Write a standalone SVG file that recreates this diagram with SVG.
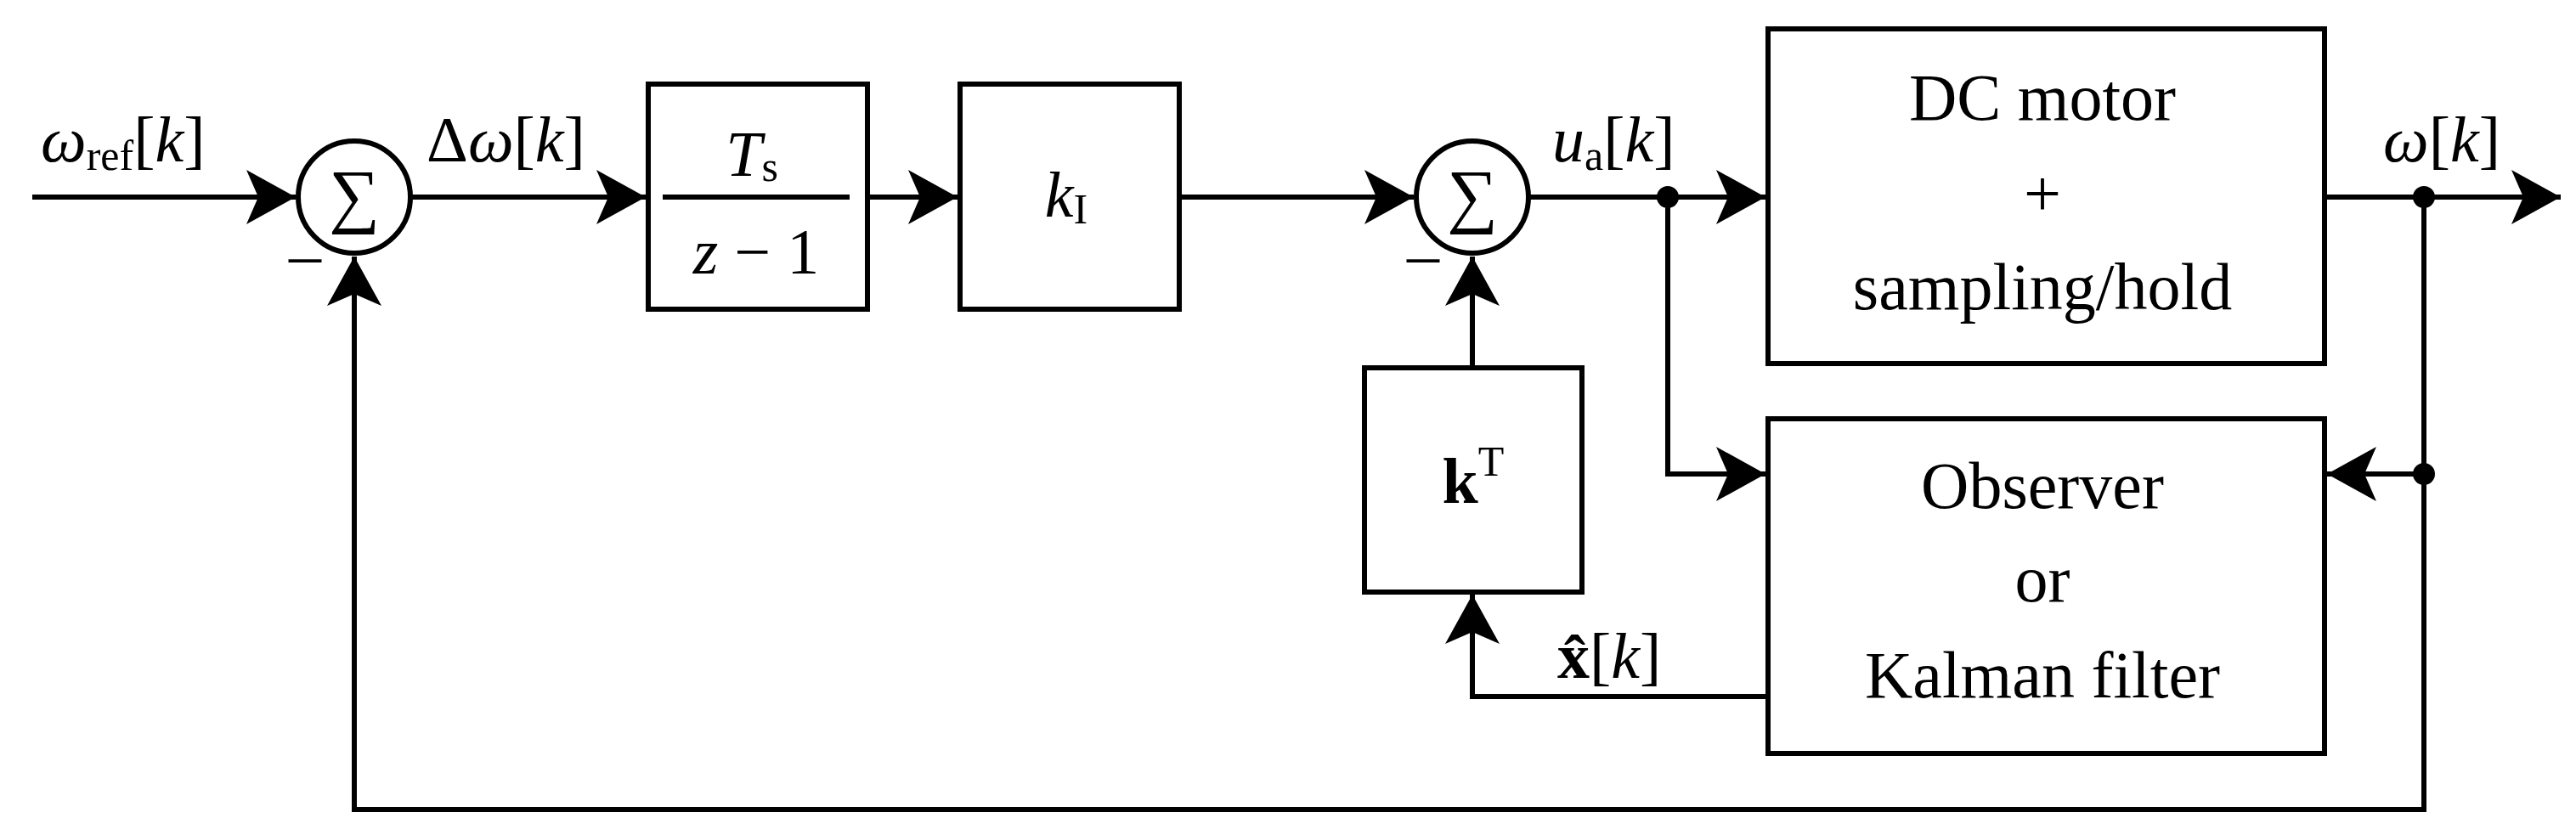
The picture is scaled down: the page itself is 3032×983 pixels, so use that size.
<svg xmlns="http://www.w3.org/2000/svg" width="3032" height="983" viewBox="0 0 3032 983" font-family="Liberation Serif, Times New Roman, DejaVu Serif, serif">
<style>
.ln{fill:none;stroke:#000;stroke-width:6}
.bx{fill:#fff;stroke:#000;stroke-width:6}
.t{font-size:78px;fill:#000}
.m{font-size:76px;fill:#000}
.i{font-style:italic}
.s{font-size:50px}
</style>
<defs>
<marker id="a" markerUnits="userSpaceOnUse" markerWidth="60" markerHeight="64" refX="58" refY="32" orient="auto">
<path d="M0,0 L58,32 L0,64 L14,32 Z" fill="#000"/>
</marker>
</defs>
<g id="connectors">
<path class="ln" d="M38,232 H348" marker-end="url(#a)"/>
<path class="ln" d="M484,232 H760" marker-end="url(#a)"/>
<path class="ln" d="M1021,232 H1127" marker-end="url(#a)"/>
<path class="ln" d="M1388,232 H1664" marker-end="url(#a)"/>
<path class="ln" d="M1800,232 H2078" marker-end="url(#a)"/>
<path class="ln" d="M1963,232 V558 H2078" marker-end="url(#a)"/>
<path class="ln" d="M2736,232 H3014" marker-end="url(#a)"/>
<path class="ln" d="M2853,232 V953 H417 V302" marker-end="url(#a)"/>
<path class="ln" d="M2853,558 H2739" marker-end="url(#a)"/>
<path class="ln" d="M2081,820 H1733 V700" marker-end="url(#a)"/>
<path class="ln" d="M1733,433 V302" marker-end="url(#a)"/>
<circle cx="1963" cy="232" r="13"/>
<circle cx="2853" cy="232" r="13"/>
<circle cx="2853" cy="558" r="13"/>
</g>
<g id="sum1"><circle class="bx" cx="417" cy="232" r="66"/><text class="m" x="417" y="258" text-anchor="middle" style="font-size:84px">∑</text><text class="m" x="340" y="325">–</text></g>
<g id="sum2"><circle class="bx" cx="1733" cy="232" r="66"/><text class="m" x="1733" y="258" text-anchor="middle" style="font-size:84px">∑</text><text class="m" x="1656" y="325">–</text></g>
<g id="integrator"><rect class="bx" x="763" y="99" width="258" height="265"/>
<line class="ln" x1="780" y1="232" x2="1000" y2="232"/>
<text class="m" x="885" y="207" text-anchor="middle"><tspan class="i">T</tspan><tspan class="s" dy="6">s</tspan></text>
<text class="m" x="890" y="322" text-anchor="middle"><tspan class="i">z</tspan> − 1</text></g>
<g id="kI"><rect class="bx" x="1130" y="99" width="258" height="265"/>
<text class="m" x="1255" y="255" text-anchor="middle"><tspan class="i">k</tspan><tspan class="s" dy="8">I</tspan></text></g>
<g id="kT"><rect class="bx" x="1606" y="433" width="256" height="264"/>
<text class="m" x="1734" y="592" text-anchor="middle"><tspan font-weight="bold">k</tspan><tspan class="s" dy="-32">T</tspan></text></g>
<g id="motor"><rect class="bx" x="2081" y="34" width="655" height="394"/>
<text class="t" x="2404" y="141" text-anchor="middle">DC motor</text>
<text class="t" x="2404" y="254" text-anchor="middle">+</text>
<text class="t" x="2404" y="364" text-anchor="middle">sampling/hold</text></g>
<g id="observer"><rect class="bx" x="2081" y="493" width="655" height="394"/>
<text class="t" x="2404" y="598" text-anchor="middle">Observer</text>
<text class="t" x="2404" y="708" text-anchor="middle">or</text>
<text class="t" x="2404" y="821" text-anchor="middle">Kalman filter</text></g>
<g id="labels">
<text class="m" x="48" y="190"><tspan class="i">ω</tspan><tspan class="s" dy="10">ref</tspan><tspan dy="-10">[</tspan><tspan class="i">k</tspan>]</text>
<text class="m" x="502" y="190">Δ<tspan class="i">ω</tspan>[<tspan class="i">k</tspan>]</text>
<text class="m" x="1827" y="190"><tspan class="i">u</tspan><tspan class="s" dy="10">a</tspan><tspan dy="-10">[</tspan><tspan class="i">k</tspan>]</text>
<text class="m" x="2805" y="190"><tspan class="i">ω</tspan>[<tspan class="i">k</tspan>]</text>
<text class="m" x="1833" y="798"><tspan font-weight="bold">x̂</tspan>[<tspan class="i">k</tspan>]</text>
</g>
</svg>
